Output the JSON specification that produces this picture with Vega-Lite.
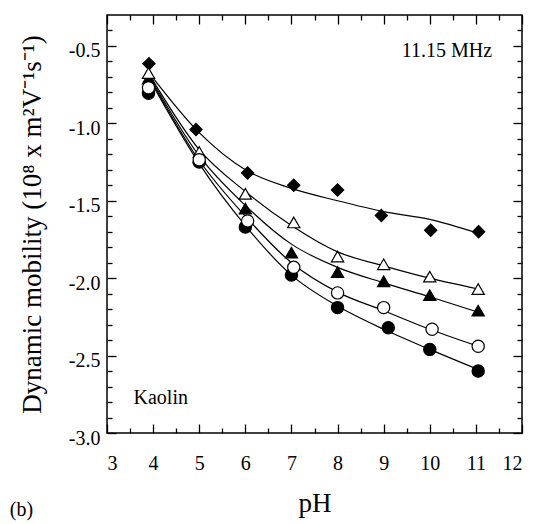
{
  "$schema": "https://vega.github.io/schema/vega-lite/v6.json",
  "width": 415,
  "height": 418,
  "autosize": {"type": "none"},
  "padding": {"left": 107, "top": 15, "right": 13, "bottom": 91},
  "background": "white",
  "config": {
    "font": "Times New Roman, Liberation Serif, serif",
    "view": {"stroke": "black", "strokeWidth": 1.5},
    "axis": {
      "grid": false,
      "domain": false,
      "tickColor": "black",
      "tickWidth": 1.3,
      "labelColor": "black",
      "titleColor": "black",
      "labelFont": "Times New Roman, Liberation Serif, serif",
      "titleFont": "Times New Roman, Liberation Serif, serif",
      "titleFontWeight": "normal",
      "labelFontSize": 20,
      "titleFontSize": 27
    },
    "text": {"font": "Times New Roman, Liberation Serif, serif", "fontSize": 20, "color": "black"}
  },
  "datasets": {
    "pts": [
      {"s": "d", "pH": 3.91, "m": -0.615},
      {"s": "d", "pH": 4.93, "m": -1.04},
      {"s": "d", "pH": 6.05, "m": -1.32},
      {"s": "d", "pH": 7.05, "m": -1.40},
      {"s": "d", "pH": 8.0, "m": -1.43},
      {"s": "d", "pH": 8.95, "m": -1.595},
      {"s": "d", "pH": 10.02, "m": -1.69},
      {"s": "d", "pH": 11.06, "m": -1.70},
      {"s": "ft", "pH": 3.9, "m": -0.71},
      {"s": "ft", "pH": 5.0, "m": -1.22},
      {"s": "ft", "pH": 6.0, "m": -1.55},
      {"s": "ft", "pH": 7.0, "m": -1.835},
      {"s": "ft", "pH": 8.0, "m": -1.96},
      {"s": "ft", "pH": 9.0, "m": -2.02},
      {"s": "ft", "pH": 10.0, "m": -2.11},
      {"s": "ft", "pH": 11.05, "m": -2.21},
      {"s": "fc", "pH": 3.9, "m": -0.805},
      {"s": "fc", "pH": 5.0, "m": -1.25},
      {"s": "fc", "pH": 6.0, "m": -1.67},
      {"s": "fc", "pH": 7.0, "m": -1.98},
      {"s": "fc", "pH": 8.0, "m": -2.19},
      {"s": "fc", "pH": 9.1, "m": -2.32},
      {"s": "fc", "pH": 10.0, "m": -2.46},
      {"s": "fc", "pH": 11.05, "m": -2.60},
      {"s": "ot", "pH": 3.9, "m": -0.675},
      {"s": "ot", "pH": 5.0, "m": -1.185},
      {"s": "ot", "pH": 6.0, "m": -1.455},
      {"s": "ot", "pH": 7.05, "m": -1.64},
      {"s": "ot", "pH": 8.0, "m": -1.86},
      {"s": "ot", "pH": 9.0, "m": -1.91},
      {"s": "ot", "pH": 10.0, "m": -1.99},
      {"s": "ot", "pH": 11.05, "m": -2.07},
      {"s": "oc", "pH": 3.9, "m": -0.77},
      {"s": "oc", "pH": 5.0, "m": -1.235},
      {"s": "oc", "pH": 6.05, "m": -1.63},
      {"s": "oc", "pH": 7.05, "m": -1.93},
      {"s": "oc", "pH": 8.0, "m": -2.095},
      {"s": "oc", "pH": 9.0, "m": -2.19},
      {"s": "oc", "pH": 10.05, "m": -2.33},
      {"s": "oc", "pH": 11.05, "m": -2.44}
    ],
    "fit": [
      {"s": "d", "pH": 3.93, "m": -0.68},
      {"s": "d", "pH": 5.0, "m": -1.06},
      {"s": "d", "pH": 6.0, "m": -1.30},
      {"s": "d", "pH": 7.0, "m": -1.42},
      {"s": "d", "pH": 8.0, "m": -1.50},
      {"s": "d", "pH": 9.0, "m": -1.57},
      {"s": "d", "pH": 10.0, "m": -1.62},
      {"s": "d", "pH": 11.05, "m": -1.71},
      {"s": "ot", "pH": 3.93, "m": -0.69},
      {"s": "ot", "pH": 5.0, "m": -1.17},
      {"s": "ot", "pH": 6.0, "m": -1.44},
      {"s": "ot", "pH": 7.0, "m": -1.66},
      {"s": "ot", "pH": 8.0, "m": -1.83},
      {"s": "ot", "pH": 9.0, "m": -1.92},
      {"s": "ot", "pH": 10.0, "m": -2.00},
      {"s": "ot", "pH": 11.05, "m": -2.07},
      {"s": "ft", "pH": 3.93, "m": -0.70},
      {"s": "ft", "pH": 5.0, "m": -1.21},
      {"s": "ft", "pH": 6.0, "m": -1.53},
      {"s": "ft", "pH": 7.0, "m": -1.78},
      {"s": "ft", "pH": 8.0, "m": -1.93},
      {"s": "ft", "pH": 9.0, "m": -2.03},
      {"s": "ft", "pH": 10.0, "m": -2.12},
      {"s": "ft", "pH": 11.05, "m": -2.22},
      {"s": "oc", "pH": 3.93, "m": -0.71},
      {"s": "oc", "pH": 5.0, "m": -1.24},
      {"s": "oc", "pH": 6.0, "m": -1.60},
      {"s": "oc", "pH": 7.0, "m": -1.90},
      {"s": "oc", "pH": 8.0, "m": -2.09},
      {"s": "oc", "pH": 9.0, "m": -2.21},
      {"s": "oc", "pH": 10.0, "m": -2.33},
      {"s": "oc", "pH": 11.05, "m": -2.44},
      {"s": "fc", "pH": 3.93, "m": -0.72},
      {"s": "fc", "pH": 5.0, "m": -1.26},
      {"s": "fc", "pH": 6.0, "m": -1.66},
      {"s": "fc", "pH": 7.0, "m": -1.98},
      {"s": "fc", "pH": 8.0, "m": -2.18},
      {"s": "fc", "pH": 9.0, "m": -2.33},
      {"s": "fc", "pH": 10.0, "m": -2.46},
      {"s": "fc", "pH": 11.05, "m": -2.59}
    ],
    "ann": [
      {"t": "Kaolin", "pH": 4.165, "m": -2.775},
      {"t": "11.15 MHz", "pH": 10.37, "m": -0.53}
    ],
    "lab": [
      {"t": "(b)", "pH": 1.145, "m": -3.50}
    ]
  },
  "resolve": {"axis": {"x": "independent", "y": "independent"}},
  "layer": [
    {
      "data": {"name": "fit"},
      "mark": {"type": "line", "interpolate": "monotone", "color": "black", "strokeWidth": 1.2},
      "encoding": {
        "x": {
          "field": "pH", "type": "quantitative",
          "scale": {"domain": [3, 12], "nice": false, "zero": false},
          "axis": {
            "orient": "bottom",
            "values": [3, 4, 5, 6, 7, 8, 9, 10, 11, 12],
            "format": "d",
            "tickSize": -9,
            "labelPadding": 29,
            "title": "pH",
            "titlePadding": 17
          }
        },
        "y": {
          "field": "m", "type": "quantitative",
          "scale": {"domain": [-3.0, -0.3], "nice": false, "zero": false},
          "axis": {
            "orient": "left",
            "values": [-3.0, -2.5, -2.0, -1.5, -1.0, -0.5],
            "format": ".1f",
            "labelExpr": "replace(datum.label, '−', '-')",
            "tickSize": -9,
            "labelPadding": 16,
            "labelOffset": 5,
            "title": "Dynamic mobility (10⁸ x m²V⁻¹s⁻¹)",
            "titlePadding": 22
          }
        },
        "detail": {"field": "s"}
      }
    },
    {
      "data": {"name": "pts"},
      "mark": {"type": "point", "filled": true, "stroke": "black", "strokeWidth": 1.2, "opacity": 1},
      "encoding": {
        "x": {
          "field": "pH", "type": "quantitative",
          "scale": {"domain": [3, 12], "nice": false, "zero": false},
          "axis": {
            "orient": "bottom",
            "values": [3.5, 4.5, 5.5, 6.5, 7.5, 8.5, 9.5, 10.5, 11.5],
            "tickSize": -5,
            "labels": false,
            "title": null
          }
        },
        "y": {
          "field": "m", "type": "quantitative",
          "scale": {"domain": [-3.0, -0.3], "nice": false, "zero": false},
          "axis": {
            "orient": "left",
            "values": [-2.9, -2.8, -2.7, -2.6, -2.4, -2.3, -2.2, -2.1, -1.9, -1.8, -1.7, -1.6, -1.4, -1.3, -1.2, -1.1, -0.9, -0.8, -0.7, -0.6, -0.4],
            "tickSize": -5,
            "labels": false,
            "title": null
          }
        },
        "shape": {
          "field": "s", "type": "nominal",
          "scale": {"domain": ["d", "ot", "ft", "oc", "fc"], "range": ["diamond", "triangle-up", "triangle-up", "circle", "circle"]},
          "legend": null
        },
        "fill": {
          "field": "s", "type": "nominal",
          "scale": {"domain": ["d", "ot", "ft", "oc", "fc"], "range": ["black", "white", "black", "white", "black"]},
          "legend": null
        },
        "size": {"value": 150}
      }
    },
    {
      "data": {"name": "ann"},
      "mark": {"type": "text", "align": "center", "baseline": "middle", "font": "Times New Roman, Liberation Serif, serif", "fontSize": 20},
      "encoding": {
        "x": {
          "field": "pH", "type": "quantitative",
          "scale": {"domain": [3, 12], "nice": false, "zero": false},
          "axis": {
            "orient": "top",
            "values": [3, 4, 5, 6, 7, 8, 9, 10, 11, 12],
            "tickSize": -9,
            "labels": false,
            "title": null
          }
        },
        "y": {
          "field": "m", "type": "quantitative",
          "scale": {"domain": [-3.0, -0.3], "nice": false, "zero": false},
          "axis": {
            "orient": "right",
            "values": [-3.0, -2.5, -2.0, -1.5, -1.0, -0.5],
            "tickSize": -9,
            "labels": false,
            "title": null
          }
        },
        "text": {"field": "t"}
      }
    },
    {
      "data": {"name": "lab"},
      "mark": {"type": "text", "align": "center", "baseline": "middle", "font": "Times New Roman, Liberation Serif, serif", "fontSize": 20},
      "encoding": {
        "x": {
          "field": "pH", "type": "quantitative",
          "scale": {"domain": [3, 12], "nice": false, "zero": false},
          "axis": {
            "orient": "top",
            "values": [3.5, 4.5, 5.5, 6.5, 7.5, 8.5, 9.5, 10.5, 11.5],
            "tickSize": -5,
            "labels": false,
            "title": null
          }
        },
        "y": {
          "field": "m", "type": "quantitative",
          "scale": {"domain": [-3.0, -0.3], "nice": false, "zero": false},
          "axis": {
            "orient": "right",
            "values": [-2.9, -2.8, -2.7, -2.6, -2.4, -2.3, -2.2, -2.1, -1.9, -1.8, -1.7, -1.6, -1.4, -1.3, -1.2, -1.1, -0.9, -0.8, -0.7, -0.6, -0.4],
            "tickSize": -5,
            "labels": false,
            "title": null
          }
        },
        "text": {"field": "t"}
      }
    }
  ]
}
